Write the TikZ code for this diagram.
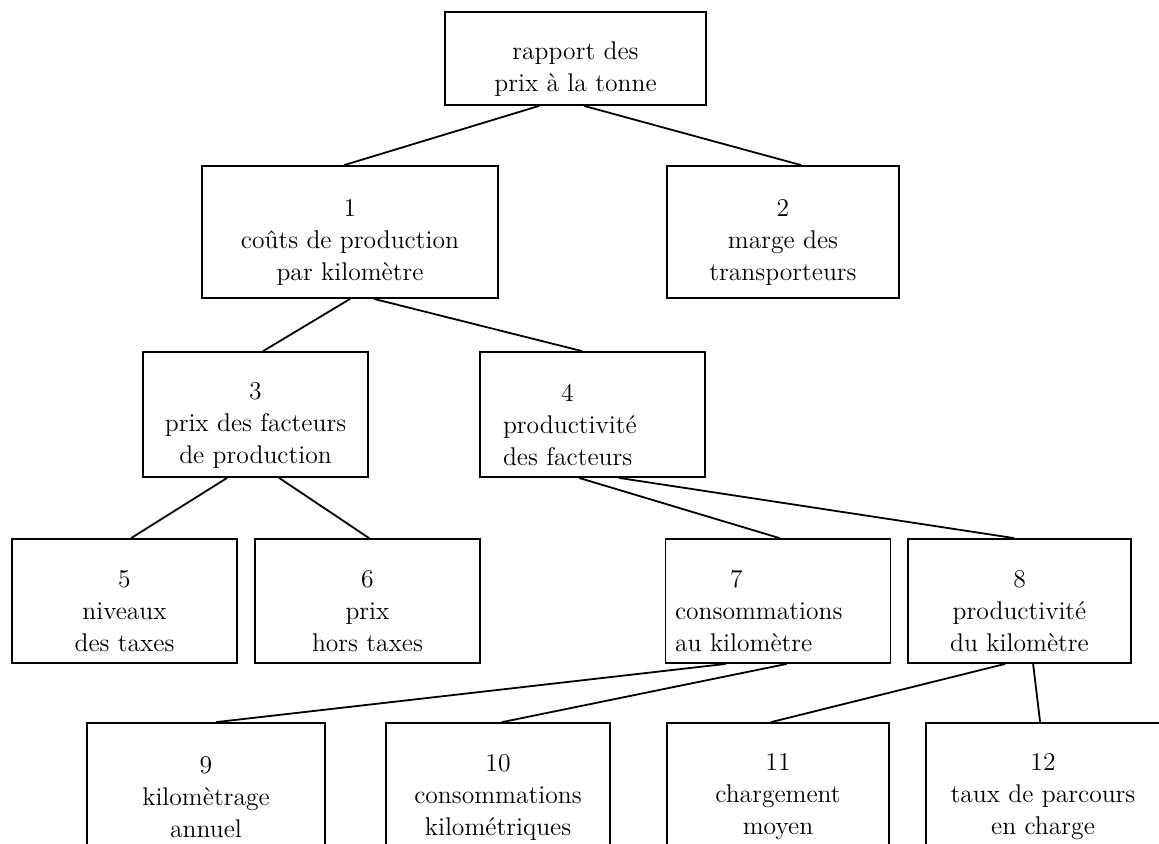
\documentclass[tikz,border=0pt]{standalone}
\usepackage{fontspec}
\usetikzlibrary{calc}
\newcommand*{\pwd }{1159}
\newcommand*{\pht }{843}
\newcommand*{\bwd }{112.5pt}
\newcommand*{\tht }{46.5pt}
\newcommand*{\aht }{66pt}
\newcommand*{\bht }{62.5pt}
\newcommand*{\lht }{74pt}
\newcommand*{\drop}{\rule{0pt}{19pt}}

\begin{document}
\begin{tikzpicture}[x=0.5pt, y=-0.5pt, line width=0.9pt,
    box/.style={draw, align=center, inner sep=2pt, minimum width=\bwd, font=\fontsize{12.8}{16}\selectfont},
    lbox/.style={box, align=left}]
    \useasboundingbox (0,0) rectangle (\pwd,\pht);
    \clip (0,0) rectangle (\pwd,\pht);
        % top
        \node [box, minimum width=130.5pt, minimum height=\tht] (n0) at (575.5, 58.5) {\drop rapport des\\prix à la tonne};
        % first level
        \node [box, minimum width=148pt, minimum height=\aht] (n1) at (350,232) {\drop 1\\coûts de production\\par kilomètre};
        \node [box, minimum width=116pt, minimum height=\aht] (n2) at (783,232) {\drop 2\\marge des\\transporteurs};
        % second level
        \node [box, minimum height=\bht] (n3) at (255.5,414.5) {\drop 3\\prix des facteurs\\de production};
        \node [lbox, text width=89.5pt, inner xsep=11.5pt, minimum height=\bht] (n4) at (592.5,414.5) {\drop\hspace*{29pt}4\\productivité\\des facteurs};
        % third level
        \node [box, minimum height=62pt] (n5) at (124.5,601) {\drop 5\\niveaux\\des taxes};
        \node [box, minimum height=62pt] (n6) at (367.5,601) {\drop 6\\prix\\hors taxes};
        \node [lbox, text width=103pt, inner xsep=4pt, minimum height=62pt] (n7) at (778,601) {\drop\hspace*{27.5pt}7\\consommations\\au kilomètre};
        \node [box, minimum width=111.5pt, minimum height=62pt] (n8) at (1019.5,601) {\drop 8\\productivité\\du kilomètre};
        % last level, cut by the page
        \node [box, minimum width=119pt, minimum height=\lht] (n9) at (206,797) {9\\kilomètrage\\annuel};
        \node [box, minimum width=112pt, minimum height=\lht] (n10) at (498,797) {10\\consommations\\kilométriques};
        \node [box, minimum width=111pt, minimum height=\lht] (n11) at (778,797) {11\\chargement\\moyen};
        \node [box, minimum width=117pt, minimum height=\lht] (n12) at (1043,797) {12\\taux de parcours\\en charge};
        % connectors
        \draw ($(n0.south west)+(95,0)$) -- ($(n1.north west)+(143,0)$);
        \draw ($(n0.south west)+(140,0)$) -- ($(n2.north west)+(135,0)$);
        \draw ($(n1.south west)+(149,0)$) -- ($(n3.north west)+(121,0)$);
        \draw ($(n1.south west)+(173,0)$) -- ($(n4.north west)+(103,0)$);
        \draw ($(n3.south west)+(85,0)$) -- ($(n5.north west)+(120,0)$);
        \draw ($(n3.south west)+(137,0)$) -- ($(n6.north west)+(115,0)$);
        \draw ($(n4.south west)+(100,0)$) -- ($(n7.north west)+(115,0)$);
        \draw ($(n4.south west)+(140,0)$) -- ($(n8.north west)+(107,0)$);
        \draw ($(n7.south west)+(61,0)$) -- ($(n9.north west)+(130,0)$);
        \draw ($(n7.south west)+(122,0)$) -- ($(n10.north west)+(117,0)$);
        \draw ($(n8.south west)+(98,0)$) -- ($(n11.north west)+(105,0)$);
        \draw ($(n8.south west)+(126,0)$) -- ($(n12.north west)+(115,0)$);
    \end{tikzpicture}
\end{document}
